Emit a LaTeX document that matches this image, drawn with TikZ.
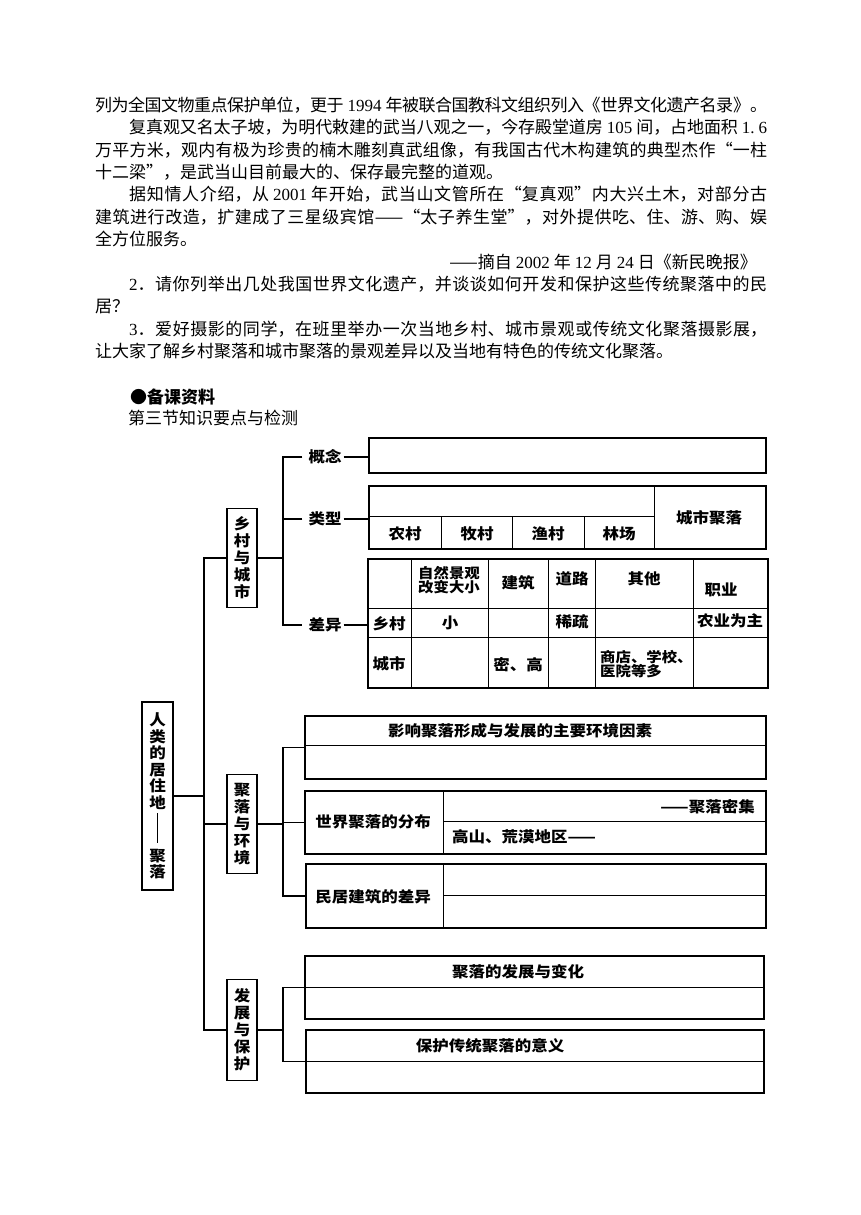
\documentclass[tikz,border=0pt]{standalone}
\usepackage{fontspec}
\setmainfont{Liberation Serif}
\newfontfamily\cjk{Noto Sans CJK SC}
\newfontfamily\cjkd{Noto Sans CJK SC}[FakeStretch=1.1]
\XeTeXlinebreaklocale "zh"
\XeTeXlinebreakskip=0pt plus 3pt minus 0.5pt
\newcommand\nm[1]{{\rmfamily\kern4pt#1\kern4pt}}
\newcommand\jl[2]{\parbox{#1}{\parindent=0pt\parfillskip=0pt\emergencystretch=20pt\relax #2}}
\newcommand\bfnt{\cjk\fontsize{17}{20}\selectfont}
\newcommand\dfont{\cjkd\bfseries\fontsize{15}{17}\selectfont}
\newcommand\dsmall{\cjkd\bfseries\fontsize{14}{14}\selectfont}
\begin{document}
\begin{tikzpicture}[x=1pt,y=-1pt,
  dconn/.style={line width=1.5pt},
  dframe/.style={draw,line width=1.5pt,anchor=north west,inner sep=0pt},
  dcat/.style={draw,line width=1.5pt,inner sep=0pt,align=center,font=\dfont,minimum width=30pt},
  dthin/.style={line width=0.8pt},
  dlbl/.style={inner xsep=2pt,inner ysep=0pt,font=\dfont},
  dtxt/.style={inner sep=0pt,font=\dfont},
  btxt/.style={anchor=west,inner sep=0pt,font=\bfnt}]
\useasboundingbox (0,0) rectangle (860,1215);

% ---------- body text ----------
\node[btxt] (t1) at (95,105) {\jl{672pt}{列为全国文物重点保护单位，更于\nm{1994}年被联合国教科文组织列入《世界文化遗产名录》。}};
\node[btxt] (t2) at (129,127.4) {\jl{638pt}{复真观又名太子坡，为明代敕建的武当八观之一，今存殿堂道房\nm{105}间，占地面积{\rmfamily\kern4pt 1.\kern4pt6}}};
\node[btxt] (t3) at (95,149.8) {\jl{672pt}{万平方米，观内有极为珍贵的楠木雕刻真武组像，有我国古代木构建筑的典型杰作“一柱}};
\node[btxt] (t4) at (95,172.2) {十二梁”，是武当山目前最大的、保存最完整的道观。};
\node[btxt] (t5) at (129,194.6) {\jl{638pt}{据知情人介绍，从\nm{2001}年开始，武当山文管所在“复真观”内大兴土木，对部分古}};
\node[btxt] (t6) at (95,217) {\jl{672pt}{建筑进行改造，扩建成了三星级宾馆——“太子养生堂”，对外提供吃、住、游、购、娱}};
\node[btxt] (t7) at (95,239.4) {全方位服务。};
\node[btxt,anchor=east] (t8) at (757,261.8) {——摘自\nm{2002}年\nm{12}月\nm{24}日《新民晚报》};
\node[btxt] (t9) at (129,284.2) {\jl{638pt}{{\rmfamily 2}．请你列举出几处我国世界文化遗产，并谈谈如何开发和保护这些传统聚落中的民}};
\node[btxt] (t10) at (95,306.6) {居？};
\node[btxt] (t11) at (129,329) {\jl{638pt}{{\rmfamily 3}．爱好摄影的同学，在班里举办一次当地乡村、城市景观或传统文化聚落摄影展，}};
\node[btxt] (t12) at (95,351.4) {让大家了解乡村聚落和城市聚落的景观差异以及当地有特色的传统文化聚落。};
\node[btxt,font=\bfnt\bfseries] (t13) at (130,397) {●备课资料};
\node[btxt] (t14) at (128,418) {第三节知识要点与检测};

% ---------- main and categories ----------
\node[dcat,minimum width=31pt,minimum height=188pt,font=\cjkd\bfseries\fontsize{15}{16.6}\selectfont] (main) at (157.5,796)
  {人\\类\\的\\居\\住\\地\\[2pt]\rule{0.9pt}{30pt}\\[2pt]聚\\落};
\node[dcat,minimum height=99pt] (c1) at (242,558) {乡\\村\\与\\城\\市};
\node[dcat,minimum height=99pt] (c2) at (242,824) {聚\\落\\与\\环\\境};
\node[dcat,minimum height=101pt] (c3) at (242,1030) {发\\展\\与\\保\\护};

\coordinate (tr) at (204,0);
\coordinate (b1) at (283,0);
\draw[dconn] (c1.west) -- (c1.west -| tr) -- (c3.west -| tr) -- (c3.west);
\draw[dconn] (main.east) -- (main.east -| tr);
\draw[dconn] (c2.west) -- (c2.west -| tr);

% ---------- 乡村与城市 ----------
\node[dlbl] (gn) at (325,457) {概念};
\node[dlbl] (lx) at (325,519) {类型};
\node[dlbl] (cy) at (325,625) {差异};
\draw[dconn] (c1.east) -- (c1.east -| b1);
\draw[dconn] ([xshift=-4pt]gn.west) -- (gn.west -| b1) -- (cy.west -| b1) -- ([xshift=-4pt]cy.west);
\draw[dconn] ([xshift=-4pt]lx.west) -- (lx.west -| b1);

\node[dframe,minimum width=397pt,minimum height=35pt] (k1) at (368,437) {};
\node[dframe,minimum width=397pt,minimum height=63pt] (k2) at (368,485) {};
\node[dframe,minimum width=400pt,minimum height=129pt] (k3) at (367,558) {};
\draw[dconn] (gn.east) -- (gn.east -| k1.west);
\draw[dconn] (lx.east) -- (lx.east -| k2.west);
\draw[dconn] (cy.east) -- (cy.east -| k3.west);

% 类型 grid
\draw[dthin] (368,516) -- (654,516);
\draw[dthin] (654,485) -- (654,548);
\draw[dthin] (441,516) -- (441,548) (512,516) -- (512,548) (584,516) -- (584,548);
\node[dtxt] (lx1) at (405,534) {农村};
\node[dtxt] (lx2) at (477,534) {牧村};
\node[dtxt] (lx3) at (548,534) {渔村};
\node[dtxt] (lx4) at (619,534) {林场};
\node[dtxt] (lx5) at (709,518) {城市聚落};

% 差异 table
\draw[dthin] (367,608) -- (767,608) (367,637) -- (767,637);
\draw[dthin] (411,558) -- (411,687) (488,558) -- (488,687) (548,558) -- (548,687)
  (595,558) -- (595,687) (693,558) -- (693,687);
\node[dtxt,align=center,font=\dsmall] (h1) at (449,580) {自然景观\\改变大小};
\node[dtxt] (h2) at (518,583) {建筑};
\node[dtxt] (h3) at (572,579) {道路};
\node[dtxt] (h4) at (644,579) {其他};
\node[dtxt] (h5) at (721,590) {职业};
\node[dtxt] (r1) at (389,624) {乡村};
\node[dtxt] (r1a) at (450,623) {小};
\node[dtxt] (r1b) at (572,622) {稀疏};
\node[dtxt] (r1c) at (730,621) {农业为主};
\node[dtxt] (r2) at (389,664) {城市};
\node[dtxt] (r2a) at (518,665) {密、高};
\node[dtxt,align=left,anchor=west,font=\dsmall] (r2b) at (600,664) {商店、学校、\\医院等多};

% ---------- 聚落与环境 ----------
\coordinate (b2) at (283,0);
\node[dframe,minimum width=461pt,minimum height=63pt] (m1) at (304,715) {};
\node[dframe,minimum width=461pt,minimum height=63pt] (m2) at (304,790) {};
\node[dframe,minimum width=460pt,minimum height=64pt] (m3) at (305,863) {};
\draw[dconn] (c2.east) -- (c2.east -| b2);
\draw[dconn] (m1.west) -- (m1.west -| b2) -- (m3.west -| b2) -- (m3.west);
\draw[dconn] (m2.west) -- (m2.west -| b2);
\draw[dthin] (304,745) -- (765,745);
\node[dtxt] (m1t) at (520,731) {影响聚落形成与发展的主要环境因素};
\draw[dthin] (443,790) -- (443,853) (443,821) -- (765,821);
\node[dtxt] (m2t) at (373,822) {世界聚落的分布};
\node[dtxt,anchor=east] (m2a) at (755,807) {——聚落密集};
\node[dtxt,anchor=west] (m2b) at (452,837) {高山、荒漠地区——};
\draw[dthin] (443,863) -- (443,927) (443,895) -- (765,895);
\node[dtxt] (m3t) at (373,897) {民居建筑的差异};

% ---------- 发展与保护 ----------
\coordinate (b3) at (283,0);
\node[dframe,minimum width=459pt,minimum height=63pt] (n1) at (304,955) {};
\node[dframe,minimum width=458pt,minimum height=63pt] (n2) at (305,1029) {};
\draw[dconn] (c3.east) -- (c3.east -| b3);
\draw[dconn] (n1.west) -- (n1.west -| b3) -- (n2.west -| b3) -- (n2.west);
\draw[dthin] (304,987) -- (763,987);
\draw[dthin] (305,1061) -- (763,1061);
\node[dtxt] (n1t) at (518,972) {聚落的发展与变化};
\node[dtxt] (n2t) at (490,1046) {保护传统聚落的意义};
\end{tikzpicture}
\end{document}
